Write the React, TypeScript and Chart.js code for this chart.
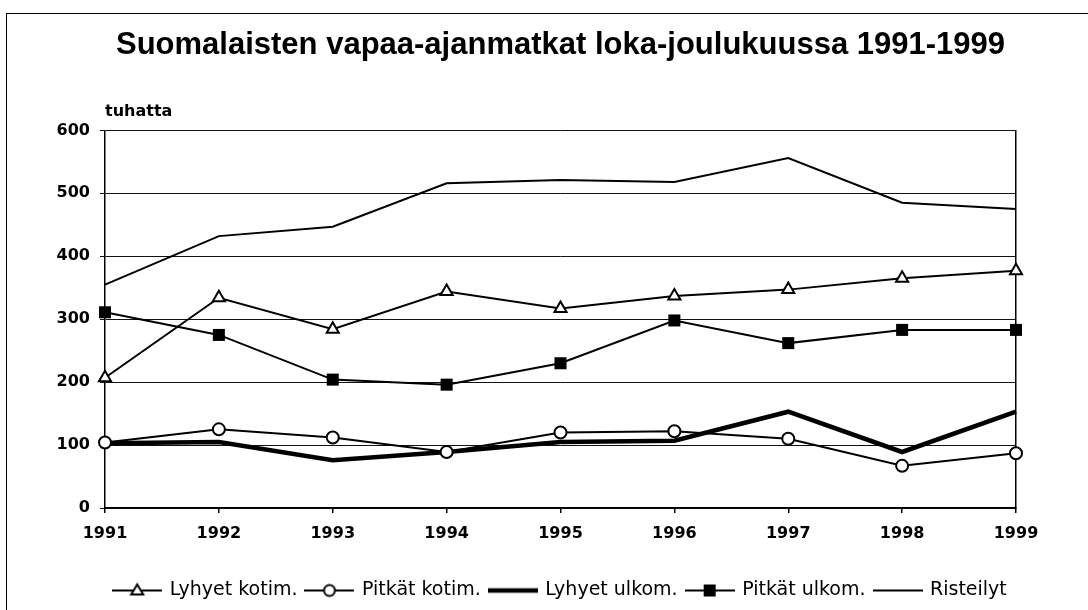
import React, { useEffect, useRef } from 'react';
import { Chart, registerables } from 'chart.js';

Chart.register(...registerables);

// ---- data ----
const years = ['1991', '1992', '1993', '1994', '1995', '1996', '1997', '1998', '1999'];
const lyhyetKotim = [207, 334, 284, 344, 317, 337, 347, 365, 377];
const pitkatKotim = [104, 125, 112, 89, 120, 122, 110, 67, 87];
const lyhyetUlkom = [103, 105, 76, 89, 105, 107, 153, 89, 153];
const pitkatUlkom = [311, 275, 204, 196, 230, 298, 262, 283, 283];
const risteilyt = [355, 432, 447, 516, 521, 518, 556, 485, 475];
const seriesNames = ['Lyhyet kotim.', 'Pitkät kotim.', 'Lyhyet ulkom.', 'Pitkät ulkom.', 'Risteilyt'];
const titleText = 'Suomalaisten vapaa-ajanmatkat loka-joulukuussa 1991-1999';
const unitText = 'tuhatta';
const yMin = 0;
const yMax = 600;
const yStep = 100;

type Marker = 'triangle' | 'circle' | 'rect' | 'none';

function makeSymbol(marker: Marker, lineWidth: number): HTMLCanvasElement {
  const c = document.createElement('canvas');
  c.width = 50;
  c.height = 20;
  const ctx = c.getContext('2d')!;
  ctx.strokeStyle = '#000';
  ctx.lineWidth = lineWidth;
  ctx.beginPath();
  ctx.moveTo(0, 10);
  ctx.lineTo(50, 10);
  ctx.stroke();
  ctx.lineWidth = 2;
  const cx = 25, cy = 10;
  if (marker === 'triangle') {
    ctx.beginPath();
    ctx.moveTo(cx, cy - 6);
    ctx.lineTo(cx + 6, cy + 4);
    ctx.lineTo(cx - 6, cy + 4);
    ctx.closePath();
    ctx.fillStyle = '#fff';
    ctx.fill();
    ctx.stroke();
  } else if (marker === 'circle') {
    ctx.beginPath();
    ctx.arc(cx, cy, 5.5, 0, Math.PI * 2);
    ctx.fillStyle = '#fff';
    ctx.fill();
    ctx.stroke();
  } else if (marker === 'rect') {
    ctx.fillStyle = '#000';
    ctx.fillRect(cx - 6, cy - 6, 12, 12);
  }
  return c;
}

const tickFont = { family: '"DejaVu Sans", sans-serif', size: 16, weight: 'bold' as const };

export default function App() {
  const ref = useRef<HTMLCanvasElement | null>(null);

  useEffect(() => {
    if (!ref.current) return;
    const markers: Marker[] = ['triangle', 'circle', 'none', 'rect', 'none'];
    const widths = [2, 2, 4.5, 2, 2];
    const series = [lyhyetKotim, pitkatKotim, lyhyetUlkom, pitkatUlkom, risteilyt];
    const symbols = markers.map((m, i) => makeSymbol(m, widths[i]));

    const datasets = series.map((data, i) => {
      const m = markers[i];
      return {
        label: seriesNames[i],
        data,
        borderColor: '#000',
        borderWidth: widths[i],
        backgroundColor: m === 'rect' ? '#000' : '#fff',
        pointStyle: m === 'none' ? 'circle' : m,
        pointRadius: m === 'none' ? 0 : m === 'rect' ? 8.5 : m === 'triangle' ? 7 : 6,
        pointBorderWidth: m === 'rect' ? 0 : 2,
        pointBorderColor: '#000',
        pointBackgroundColor: m === 'rect' ? '#000' : '#fff',
        tension: 0,
        clip: false as const,
        yAxisID: 'y',
      };
    });

    const chart = new Chart(ref.current, {
      type: 'line',
      data: { labels: years, datasets: datasets as any },
      options: {
        animation: false,
        responsive: false,
        devicePixelRatio: 1,
        layout: { padding: { left: 0, right: 72, top: 0, bottom: 0 } },
        plugins: {
          tooltip: { enabled: false },
          title: {
            display: true,
            text: titleText,
            fullSize: false,
            color: '#000',
            font: { family: '"Liberation Sans", Arial, sans-serif', size: 31, weight: 'bold' },
            padding: { top: 27, bottom: 10 },
          },
          subtitle: {
            display: true,
            text: unitText,
            fullSize: false,
            align: 'start',
            color: '#000',
            font: { family: '"DejaVu Sans", sans-serif', size: 16, weight: 'bold' },
            padding: { top: 28, bottom: 9 },
          },
          legend: {
            display: true,
            position: 'bottom',
            fullSize: false,
            align: 'center',
            labels: {
              usePointStyle: true,
              pointStyleWidth: 46,
              padding: 9,
              color: '#000',
              font: { family: '"DejaVu Sans", sans-serif', size: 19 },
              generateLabels: () =>
                seriesNames.map((name, i) => ({
                  text: name,
                  pointStyle: symbols[i] as any,
                  fillStyle: '#000',
                  strokeStyle: '#000',
                  lineWidth: 0,
                  hidden: false,
                  datasetIndex: i,
                  fontColor: '#000',
                })),
            },
          },
        },
        scales: {
          x: {
            type: 'category',
            offset: false,
            grid: { display: true, drawOnChartArea: false, drawTicks: true, tickLength: 5, color: '#000', lineWidth: 1.5 },
            border: { display: true, color: '#000', width: 1.5 },
            ticks: { color: '#000', font: tickFont, padding: 11, maxRotation: 0, autoSkip: false },
            afterFit: (s: any) => { s.height = 64; },
          },
          y: {
            min: yMin,
            max: yMax,
            position: 'left',
            grid: { color: '#111', lineWidth: 1, tickLength: 5, drawTicks: true },
            border: { display: true, color: '#000', width: 1.5 },
            ticks: { stepSize: yStep, color: '#000', font: tickFont, padding: 10 },
            afterFit: (s: any) => { s.width = 105; },
          },
          y2: {
            min: yMin,
            max: yMax,
            position: 'right',
            grid: { display: false, drawTicks: false },
            border: { display: true, color: '#000', width: 1.5 },
            ticks: { display: false },
            afterFit: (s: any) => { s.width = 0; },
          },
        },
      } as any,
    });
    return () => chart.destroy();
  }, []);

  return (
    <div style={{ position: 'fixed', left: 0, top: 0, width: 1088, height: 610, background: '#fff', overflow: 'hidden' }}>
      <div style={{ position: 'absolute', left: 6, top: 13, width: 1200, height: 800, borderLeft: '1.5px solid #000', borderTop: '1.5px solid #000' }} />
      <canvas ref={ref} width={1088} height={610} style={{ position: 'absolute', left: 0, top: 0, width: 1088, height: 610 }} />
    </div>
  );
}
